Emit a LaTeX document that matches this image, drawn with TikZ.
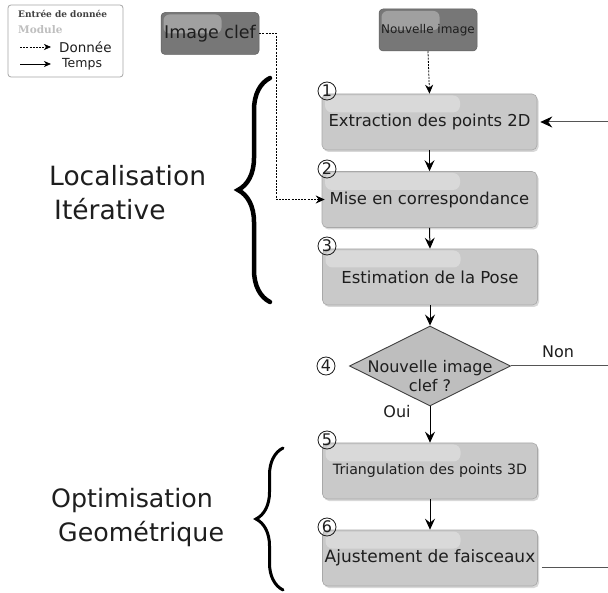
\documentclass[tikz,border=0pt]{standalone}
\usepackage{fontspec}
\setmainfont{DejaVu Sans}
\newfontfamily\legserif{DejaVu Serif}
\usetikzlibrary{shapes.geometric,arrows.meta,decorations.pathreplacing,shadows}
\definecolor{boxfill}{HTML}{C9C9C9}
\definecolor{boxedge}{HTML}{A8A8A8}
\definecolor{darkbox}{HTML}{777777}
\definecolor{textc}{HTML}{1E1E1E}
\definecolor{linec}{HTML}{555555}
\definecolor{diafill}{HTML}{BEBEBE}
\begin{document}
\begin{tikzpicture}[x=1pt,y=-1pt,
  stepbox/.style={rectangle, rounded corners=5pt, fill=boxfill, draw=boxedge, line width=0.6pt,
    minimum width=215pt, minimum height=56pt, inner sep=0pt, text=textc,
    drop shadow={shadow xshift=1.5pt,shadow yshift=-2pt,opacity=0.3},
    path picture={\fill[white,opacity=0.3,rounded corners=7pt]
      ([xshift=3pt,yshift=-1.5pt]path picture bounding box.north west) rectangle ++(135pt,-17pt);}},
  inbox/.style={rectangle, rounded corners=4pt, fill=darkbox, draw=darkbox!80!black, line width=0.5pt,
    minimum width=98pt, minimum height=42pt, inner sep=0pt, text=textc,
    path picture={\fill[white,opacity=0.3,rounded corners=6pt]
      ([xshift=2.5pt,yshift=-2pt]path picture bounding box.north west) rectangle ++(58pt,-19pt);}},
  num/.style={circle, draw=textc, line width=0.8pt, minimum size=18pt, inner sep=0pt,
    font=\fontsize{16}{16}\selectfont, text=textc},
  flow/.style={draw=black, line width=1pt, -{Stealth[length=11pt,width=10pt,inset=4pt]}},
  data/.style={draw=black, line width=0.8pt, dash pattern=on 2pt off 1.2pt, -{Stealth[length=9pt,width=8pt,inset=3pt]}},
  side/.style={draw=linec, line width=1pt},
  bigbrace/.style={decorate, draw=black, line cap=round}
]
\useasboundingbox (0,0) rectangle (608,593);
\fill[white] (0,0) rectangle (608,593);

% legend
\draw[draw=black!35, line width=0.8pt, rounded corners=3pt] (8,5) rectangle (123,77);
\node[anchor=west, inner sep=0pt, text=black!75, font=\legserif\bfseries\fontsize{9}{10}\selectfont] (lt1) at (18,14) {Entrée de donnée};
\node[anchor=west, inner sep=0pt, text=black!25, font=\legserif\bfseries\fontsize{10.5}{11}\selectfont] (lt2) at (18,30) {Module};
\coordinate (la1) at (20,47); \coordinate (lb1) at (51,47);
\coordinate (la2) at (20,64); \coordinate (lb2) at (51,64);
\draw[data, line width=0.6pt, -{Stealth[length=7pt,width=6pt,inset=2pt]}] (la1) -- (lb1);
\draw[flow, line width=0.8pt, -{Stealth[length=7pt,width=6pt,inset=2pt]}] (la2) -- (lb2);
\node[anchor=west, inner sep=0pt, text=textc, font=\fontsize{13.5}{14}\selectfont] (ld) at (59,47) {Donnée};
\node[anchor=west, inner sep=0pt, text=textc, font=\fontsize{12.5}{13}\selectfont] (lm) at (62,64) {Temps};

% input boxes
\node[inbox, font=\fontsize{17.5}{18}\selectfont] (clef) at (210,33.5) {Image clef};
\node[inbox, font=\fontsize{12}{12}\selectfont] (nouv) at (428,30) {Nouvelle image};

% process boxes
\node[stepbox, font=\fontsize{16.4}{17}\selectfont] (b1) at (429.5,122) {Extraction des points 2D};
\node[stepbox, font=\fontsize{16.4}{17}\selectfont] (b2) at (429.5,199.5) {Mise en correspondance};
\node[stepbox, font=\fontsize{16.5}{17}\selectfont] (b3) at (430,277) {Estimation de la Pose};
\node[diamond, fill=diafill, draw=black!75, line width=0.9pt, minimum width=161pt, minimum height=80pt, inner sep=0pt] (d) at (430,366) {};
\node[align=center, text=textc, font=\fontsize{16}{19}\selectfont, inner sep=0pt] (dt) at (430,376) {Nouvelle image\\clef ?};
\node[stepbox, font=\fontsize{14.2}{15}\selectfont] (b5) at (430,471) {Triangulation des points 3D};
\node[stepbox, font=\fontsize{17}{18}\selectfont] (b6) at (430,558) {Ajustement de faisceaux};

% numbers
\node[num] (n1) at (327,91) {1};
\node[num] (n2) at (327,169) {2};
\node[num] (n3) at (327,246) {3};
\node[num] (n4) at (326,366) {4};
\node[num] (n5) at (327,440) {5};
\node[num] (n6) at (327,527) {6};

% data flow
\draw[data] (nouv.south) -- (b1.north);
\draw[data] (clef.east) -- ++(17,0) |- ([xshift=3pt]b2.west);

% time flow
\draw[flow] (b1.south) -- (b2.north);
\draw[flow] (b2.south) -- (b3.north);
\draw[flow] (b3.south) -- (d.north);
\draw[flow] (d.south) -- (b5.north);
\draw[flow] (b5.south) -- (b6.north);

% side lines
\coordinate (r1) at (608,122);
\coordinate (r2) at (608,366);
\coordinate (r3) at (608,567);
\draw[side, -{Stealth[length=12pt,width=11pt,inset=4pt,color=black,fill=black]}] (r1) -- ([xshift=3pt]b1.east);
\draw[side] (d.east) -- (r2);
\draw[side] ([xshift=4pt]b6.east |- r3) -- (r3);
\node[text=textc, font=\fontsize{16}{17}\selectfont, inner sep=0pt] (non) at (558,352) {Non};
\node[text=textc, font=\fontsize{16}{17}\selectfont, inner sep=0pt] (oui) at (397,412) {Oui};

% braces
\coordinate (ba1) at (270,302); \coordinate (bb1) at (270,78);
\draw[bigbrace, line width=4.5pt, decoration={brace, amplitude=32pt}] (ba1) -- (bb1);
\coordinate (ba2) at (283,590); \coordinate (bb2) at (283,448);
\draw[bigbrace, line width=3pt, decoration={brace, amplitude=27pt}] (ba2) -- (bb2);

\node[anchor=west, align=left, text=textc, font=\fontsize{26.5}{34}\selectfont, inner sep=0pt] (loc) at (49,193) {Localisation\\\hspace*{5pt}Itérative};
\node[anchor=west, align=left, text=textc, font=\fontsize{25.3}{34}\selectfont, inner sep=0pt] (opt) at (51,518) {Optimisation\\\hspace*{7pt}Geométrique};
\end{tikzpicture}
\end{document}
